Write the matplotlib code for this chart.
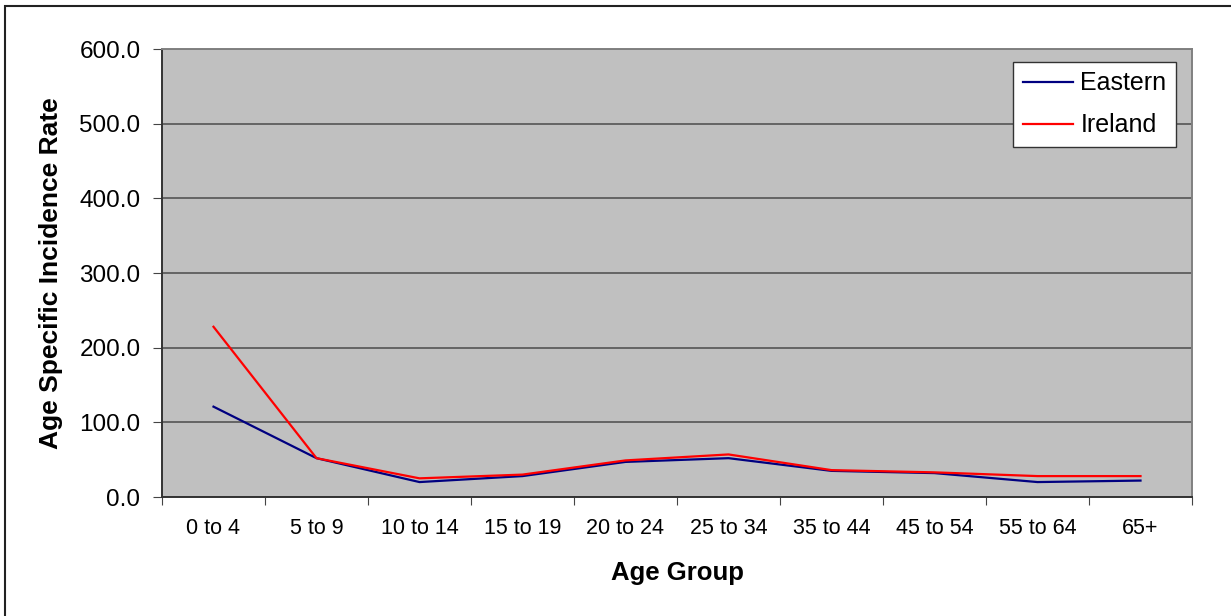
import matplotlib
matplotlib.use("Agg")
import matplotlib.pyplot as plt
from matplotlib.patches import Rectangle
import numpy as np

plt.rcParams['font.family'] = ['Liberation Sans', 'DejaVu Sans']

# Data
age_groups = ['0 to 4', '5 to 9', '10 to 14', '15 to 19', '20 to 24',
              '25 to 34', '35 to 44', '45 to 54', '55 to 64', '65+']
eastern = [121.0, 52.0, 20.0, 28.0, 47.0, 52.0, 35.0, 32.0, 20.0, 22.0]
ireland = [228.0, 52.0, 25.0, 30.0, 49.0, 57.0, 36.0, 33.0, 28.0, 28.0]

W, H = 1231, 616
fig = plt.figure(figsize=(W / 100, H / 100), dpi=100)

# plot area in pixels: left 162, right 1192, top 49, bottom 497
ax = fig.add_axes([162 / W, 1 - 497 / H, (1192 - 162) / W, (497 - 49) / H])
ax.set_facecolor('#C0C0C0')

x = np.arange(len(age_groups))
ax.plot(x, eastern, color='#000080', lw=1.6, label='Eastern')
ax.plot(x, ireland, color='#FF0000', lw=1.6, label='Ireland')

ax.set_xlim(-0.5, len(age_groups) - 0.5)
ax.set_ylim(0, 600)
ax.set_yticks(np.arange(0, 601, 100))
ax.set_yticklabels(['%.1f' % v for v in np.arange(0, 601, 100)], fontsize=17.5)
ax.yaxis.grid(True, color='#555555', lw=1.2)
ax.set_axisbelow(True)

# category ticks sit between groups, labels at centres
ax.set_xticks(np.arange(-0.5, len(age_groups), 1.0))
ax.set_xticklabels([])
ax.set_xticks(x, minor=True)
ax.set_xticklabels(age_groups, minor=True, fontsize=15.5)
ax.tick_params(axis='x', which='minor', length=0, pad=15)
ax.tick_params(axis='x', which='major', length=6, color='#444444', direction='out')
ax.tick_params(axis='y', length=6.5, color='#444444', direction='out', pad=9)

for s in ['left', 'bottom']:
    ax.spines[s].set_color('#333333')
    ax.spines[s].set_linewidth(1.4)
for s in ['top', 'right']:
    ax.spines[s].set_color('#808080')
    ax.spines[s].set_linewidth(1.4)

ax.set_xlabel('Age Group', fontsize=18.5, fontweight='bold', labelpad=16)
ax.set_ylabel('Age Specific Incidence Rate', fontsize=19, fontweight='bold', labelpad=12)

leg = ax.legend(loc='upper right', bbox_to_anchor=(1176 / W, 1 - 62 / H),
                bbox_transform=fig.transFigure, fontsize=18, frameon=True,
                fancybox=False, handlelength=2.0, handletextpad=0.3,
                borderpad=0.38, labelspacing=0.72, borderaxespad=0)
leg.get_frame().set_edgecolor('#333333')
leg.get_frame().set_facecolor('white')
leg.get_frame().set_alpha(1.0)
leg.get_frame().set_linewidth(1.0)

# outer chart border (left and top visible)
fig.patches.append(Rectangle((5 / W, -0.1), 1.2, 1 - 6 / H + 0.1,
                             transform=fig.transFigure, fill=False,
                             edgecolor='#222222', lw=1.5))

fig.savefig('out.png', dpi=100)
